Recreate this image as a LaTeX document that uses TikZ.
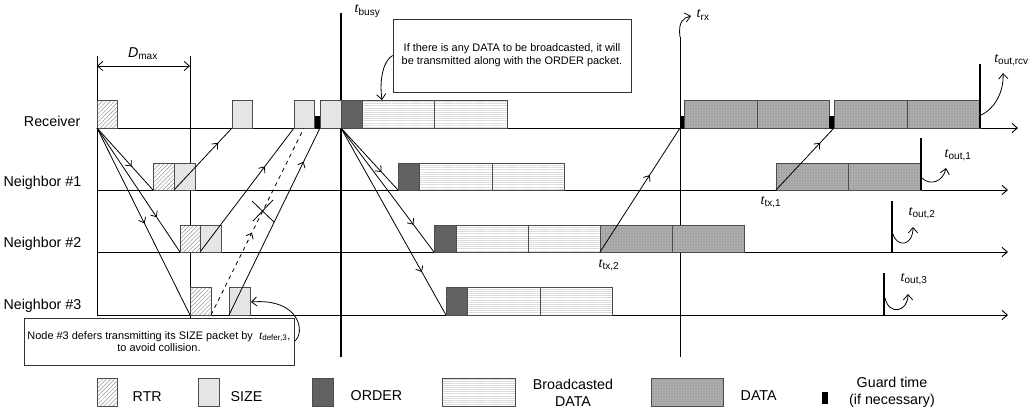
\documentclass[tikz,border=0pt]{standalone}
\usepackage{fontspec}
\setmainfont{Liberation Sans}
\newfontfamily\tfont{Liberation Serif}
\usetikzlibrary{patterns,patterns.meta,decorations.markings,arrows.meta}
\definecolor{boxline}{gray}{0.3}
\definecolor{sizegray}{gray}{0.9}
\definecolor{ordergray}{gray}{0.4}
\definecolor{datagray}{gray}{0.68}
\newcommand{\tsub}[1]{{\tfont\itshape t}\textsubscript{#1}}

\begin{document}
\begin{tikzpicture}[x=0.75pt,y=-0.75pt,>={Straight Barb[length=4pt,width=7pt]},
	font=\fontsize{10.7}{13}\selectfont,
	rtr/.style={draw=boxline,preaction={fill=white},
		pattern={Lines[angle=45,distance=2.2pt,line width=0.35pt]},pattern color=gray!85},
	sizebox/.style={draw=boxline,fill=sizegray},
	order/.style={draw=boxline,preaction={fill=ordergray},pattern=crosshatch dots,pattern color=black!75},
	bdata/.style={draw=boxline,preaction={fill=white},
		pattern={Lines[angle=0,distance=1.6pt,line width=0.3pt]},pattern color=gray!30},
	data/.style={draw=boxline,preaction={fill=datagray},
		pattern={Dots[distance=2pt,radius=0.35pt]},pattern color=gray!95!black},
	axis/.style={->,line width=0.7pt},
	sig/.style={line width=0.6pt},
	midarrow/.style={postaction={decorate,decoration={markings,
		mark=at position #1 with {\arrow{Straight Barb[length=3.5pt,width=6pt]}}}}},
	note/.style={draw=black!80,fill=white,align=center,inner sep=0pt,
		font=\fontsize{8.2}{9.6}\selectfont},
	tout/.style={line width=1.5pt}]
	\useasboundingbox (0,0) rectangle (1029,415);
	
	%labels
	\node[anchor=east] (lrcv) at (85,121) {Receiver};
	\node[anchor=east] (lnb1) at (86,183) {Neighbor \#1};
	\node[anchor=east] (lnb2) at (86,244) {Neighbor \#2};
	\node[anchor=east] (lnb3) at (86,306) {Neighbor \#3};
	
	%time lines
	\foreach \n/\y/\e in {rcv/128/1018,nb1/190/1008,nb2/252/1008,nb3/315/1008}
		\draw[axis] (97,\y) coordinate (\n) -- (\e,\y);
	
	%markers
	\draw[line width=0.6pt] (97,56) -- (97,315);
	\draw[line width=0.6pt] (190,56) -- (190,318);
	\draw[<->,line width=0.6pt] (97,66) -- (190,66);
	\node (dmax) at (143,54) {\textit{D}\textsubscript{max}};
	\draw[line width=1.6pt] (341,13) -- (341,357);
	\node[anchor=west] (tbusy) at (350,11) {\tsub{busy}};
	\draw[line width=0.6pt] (680,37) -- (680,357);
	\node[anchor=west] (trx) at (692,15) {\tsub{rx}};
	\draw[->,line width=0.6pt] (680,37) .. controls (678,22) and (683,18) .. (691,16);
	
	%receiver
	\draw[rtr] (97,128) coordinate (rtrR) rectangle (117,100);
	\draw[sizebox] (232,128) coordinate (sizeR1) rectangle (252,100);
	\draw[sizebox] (294,128) coordinate (sizeR2) rectangle (314,100);
	\coordinate (sizeR3) at (304,128);
	\fill (314.5,128) rectangle (319.5,116);
	\draw[sizebox] (320,128) coordinate (sizeR4) rectangle (341,100);
	\draw[order] (341,128) coordinate (orderR) rectangle (362,100);
	\draw[bdata] (362,128) rectangle (434,100);
	\draw[bdata] (434,128) rectangle (507,100);
	\fill (680,128) coordinate (dataR1) rectangle (684.5,116);
	\draw[data] (684.5,128) rectangle (757,100);
	\draw[data] (757,128) rectangle (829,100);
	\fill (829,128) rectangle (834,116);
	\coordinate (dataR2) at (834,128);
	\draw[data] (834,128) rectangle (907,100);
	\draw[data] (907,128) rectangle (980,100);
	
	%neighbor 1
	\draw[rtr] (153,190) coordinate (rtr1) rectangle (174,163);
	\draw[sizebox] (174,190) coordinate (size1) rectangle (195,163);
	\draw[order] (398,190) coordinate (order1) rectangle (419,163);
	\draw[bdata] (419,190) rectangle (492,163);
	\draw[bdata] (492,190) rectangle (564,163);
	\draw[data] (776,190) coordinate (data1) rectangle (848,163);
	\draw[data] (848,190) rectangle (921,163);
	
	%neighbor 2
	\draw[rtr] (180,252) coordinate (rtr2) rectangle (200,225);
	\draw[sizebox] (200,252) coordinate (size2) rectangle (221,225);
	\draw[order] (434,252) coordinate (order2) rectangle (456,225);
	\draw[bdata] (456,252) rectangle (528,225);
	\draw[bdata] (528,252) rectangle (600,225);
	\draw[data] (600,252) coordinate (data2) rectangle (672,225);
	\draw[data] (672,252) rectangle (744,225);
	
	%neighbor 3
	\draw[rtr] (190,315) coordinate (rtr3) rectangle (211,287);
	\coordinate (rtrend3) at (211,315);
	\draw[sizebox] (229,315) coordinate (size3) rectangle (250,287);
	\draw[order] (446,315) coordinate (order3) rectangle (467,287);
	\draw[bdata] (467,315) rectangle (540,287);
	\draw[bdata] (540,315) rectangle (612,287);
	
	%signals
	\draw[sig,midarrow=.62] (rtrR) -- (rtr1);
	\draw[sig,midarrow=.72] (rtrR) -- (rtr2);
	\draw[sig,midarrow=.51] (rtrR) -- (rtr3);
	\draw[sig,midarrow=.76] (size1) -- (sizeR1);
	\draw[sig,midarrow=.69] (size2) -- (sizeR2);
	\draw[sig,midarrow=.82] (size3) -- (sizeR4);
	\draw[sig,dashed,midarrow=.44] (rtrend3) -- (sizeR3);
	\draw[sig] (252,201) -- (274,222);
	\draw[sig] (253,221) -- (273,200);
	\draw[sig,midarrow=.71] (orderR) -- (order1);
	\draw[sig,midarrow=.78] (orderR) -- (order2);
	\draw[sig,midarrow=.77] (orderR) -- (order3);
	\draw[sig,midarrow=.62] (data2) -- (dataR1);
	\draw[sig,midarrow=.76] (data1) -- (dataR2);
	\node[anchor=west] (ttx2) at (594,265) {\tsub{tx,2}};
	\node[anchor=west] (ttx1) at (756,202) {\tsub{tx,1}};
	
	%end of transmission
	\draw[tout] (980,64) -- (980,128);
	\draw[tout] (921,138) -- (921,190);
	\draw[tout] (892,201) -- (892,252);
	\draw[tout] (884,273) -- (884,315);
	\node[anchor=west,inner xsep=0pt] (toutr) at (994,60) {\tsub{out,rcv}};
	\node[anchor=west] (tout1) at (940,155) {\tsub{out,1}};
	\node[anchor=west] (tout2) at (904,213) {\tsub{out,2}};
	\node[anchor=west] (tout3) at (896,279) {\tsub{out,3}};
	\draw[->,line width=0.6pt] (981,115) .. controls (996,108) and (1004,90) .. (1003,73);
	\draw[->,line width=0.6pt] (922,178) .. controls (930,186) and (943,182) .. (946,168);
	\draw[->,line width=0.6pt] (893,234) .. controls (897,248) and (913,246) .. (913,227);
	\draw[->,line width=0.6pt] (885,298) .. controls (889,316) and (908,312) .. (908,294);
	
	%notes
	\node[note,minimum width=178.5pt,minimum height=54.75pt] (note1) at (512,55.5)
		{If there is any DATA to be broadcasted, it will\\be transmitted along with the ORDER packet.};
	\draw[->,line width=0.6pt] (note1.west) .. controls (384,60) and (379,78) .. (382,100);
	\node[note,minimum width=202.5pt,minimum height=35.25pt] (note2) at (159,341.5)
		{Node \#3 defers transmitting its SIZE packet by\ \ {\fontsize{9}{9}\selectfont\tsub{defer,3}},\\to avoid collision.};
	\draw[->,line width=0.6pt] (note2.east) .. controls (306,333) and (300,298) .. (251,302);
	
	%legend
	\draw[rtr] (97,378) rectangle (117,406);
	\node[anchor=west] (krtr) at (128,397) {RTR};
	\draw[sizebox] (198,378) rectangle (219,406);
	\node[anchor=west] (ksize) at (226,397) {SIZE};
	\draw[order] (312,378) rectangle (333,406);
	\node[anchor=west] (korder) at (346,396) {ORDER};
	\draw[bdata] (442,378) rectangle (515,406);
	\node[align=center] (kbdata) at (573,392.5) {Broadcasted\\DATA};
	\draw[data] (651,378) rectangle (723,406);
	\node[anchor=west] (kdata) at (736,396) {DATA};
	\fill (822,392) rectangle (828,404);
	\node[align=center] (kguard) at (892,392) {Guard time\\(if necessary)};
\end{tikzpicture}
\end{document}
